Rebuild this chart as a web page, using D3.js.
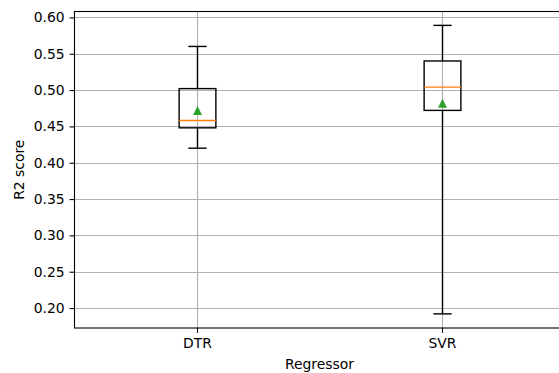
<!DOCTYPE html>
<html>
<head>
<meta charset="utf-8">
<script src="https://cdn.jsdelivr.net/npm/d3@7"></script>
<style>
  body { margin: 0; background: #fff; }
  svg { display: block; font-family: "DejaVu Sans", sans-serif; }
</style>
</head>
<body>
<svg id="chart"></svg>
<script>
const categories = ["DTR", "SVR"];
const whiskerLow = [0.420, 0.192];
const q1 = [0.448, 0.472];
const medians = [0.458, 0.504];
const q3 = [0.502, 0.540];
const whiskerHigh = [0.560, 0.589];
const means = [0.472, 0.482];
const yTicks = [0.20, 0.25, 0.30, 0.35, 0.40, 0.45, 0.50, 0.55, 0.60];

const width = 559;
const height = 373;
const margin = {left: 74.5, top: 11.5, right: -5.5, bottom: 45};
const fontSize = "13.9px";

const svg = d3.select("#chart")
    .attr("width", width)
    .attr("height", height);

const x = d3.scaleLinear()
    .domain([0.5, 2.5])
    .range([margin.left, width - margin.right]);

const y = d3.scaleLinear()
    .domain([0.17255, 0.6081])
    .range([height - margin.bottom, margin.top]);

const plotBottom = height - margin.bottom;
const plotTop = margin.top;
const boxW = x(1.15) - x(1);

// grid
const grid = svg.append("g");
grid.selectAll("line.h")
    .data(yTicks)
    .enter().append("line")
    .attr("x1", x(0.5)).attr("x2", x(2.5))
    .attr("y1", d => Math.round(y(d)) + 0.5)
    .attr("y2", d => Math.round(y(d)) + 0.5)
    .attr("stroke", "#b0b0b0")
    .attr("stroke-width", 1.1);
grid.selectAll("line.v")
    .data(categories)
    .enter().append("line")
    .attr("x1", (d, i) => Math.round(x(i + 1)) + 0.5)
    .attr("x2", (d, i) => Math.round(x(i + 1)) + 0.5)
    .attr("y1", plotTop).attr("y2", plotBottom)
    .attr("stroke", "#b0b0b0")
    .attr("stroke-width", 1.1);

// boxes
const box = svg.append("g")
    .selectAll("g")
    .data(categories)
    .enter().append("g");

const cx = (d, i) => Math.round(x(i + 1)) + 0.5;

box.append("line")
    .attr("x1", cx).attr("x2", cx)
    .attr("y1", (d, i) => y(whiskerHigh[i]))
    .attr("y2", (d, i) => y(q3[i]))
    .attr("stroke", "#000").attr("stroke-width", 1.4);
box.append("line")
    .attr("x1", cx).attr("x2", cx)
    .attr("y1", (d, i) => y(q1[i]))
    .attr("y2", (d, i) => y(whiskerLow[i]))
    .attr("stroke", "#000").attr("stroke-width", 1.4);

[whiskerHigh, whiskerLow].forEach(arr => {
    box.append("line")
        .attr("x1", (d, i) => cx(d, i) - boxW / 4)
        .attr("x2", (d, i) => cx(d, i) + boxW / 4)
        .attr("y1", (d, i) => y(arr[i]))
        .attr("y2", (d, i) => y(arr[i]))
        .attr("stroke", "#000").attr("stroke-width", 1.4);
});

box.append("rect")
    .attr("x", (d, i) => cx(d, i) - boxW / 2)
    .attr("width", boxW)
    .attr("y", (d, i) => y(q3[i]))
    .attr("height", (d, i) => y(q1[i]) - y(q3[i]))
    .attr("fill", "none")
    .attr("stroke", "#000").attr("stroke-width", 1.4);

box.append("line")
    .attr("x1", (d, i) => cx(d, i) - boxW / 2)
    .attr("x2", (d, i) => cx(d, i) + boxW / 2)
    .attr("y1", (d, i) => y(medians[i]))
    .attr("y2", (d, i) => y(medians[i]))
    .attr("stroke", "#ff7f0e").attr("stroke-width", 1.4);

// mean marker: matplotlib "^", 6pt
const m = 4.5;
box.append("path")
    .attr("d", `M0,${-m}L${m},${m}L${-m},${m}Z`)
    .attr("transform", (d, i) => `translate(${cx(d, i)},${y(means[i])})`)
    .attr("fill", "#2ca02c");

// axes
const yAxis = d3.axisLeft(y)
    .tickValues(yTicks)
    .tickFormat(d3.format(".2f"))
    .tickSizeOuter(0)
    .tickSize(4.9)
    .tickPadding(4.9);
const xAxis = d3.axisBottom(x)
    .tickValues([1, 2])
    .tickFormat((d, i) => categories[i])
    .tickSizeOuter(0)
    .tickSize(4.9)
    .tickPadding(4.9);

const gy = svg.append("g")
    .attr("transform", `translate(${margin.left},0)`)
    .call(yAxis);
const gx = svg.append("g")
    .attr("transform", `translate(0,${plotBottom})`)
    .call(xAxis);

[gx, gy].forEach(g => {
    g.selectAll("text")
        .attr("font-family", "DejaVu Sans, sans-serif")
        .attr("font-size", fontSize)
        .attr("fill", "#000");
    g.selectAll("line").attr("stroke", "#000").attr("stroke-width", 1.1);
    g.select(".domain").remove();
});

// spines
svg.append("rect")
    .attr("x", margin.left)
    .attr("y", plotTop)
    .attr("width", x(2.5) - margin.left)
    .attr("height", plotBottom - plotTop)
    .attr("fill", "none")
    .attr("stroke", "#000")
    .attr("stroke-width", 1.1);

svg.append("text")
    .attr("x", (margin.left + x(2.5)) / 2)
    .attr("y", 368.5)
    .attr("text-anchor", "middle")
    .attr("font-size", fontSize)
    .text("Regressor");

svg.append("text")
    .attr("transform", `translate(23.5,${(plotTop + plotBottom) / 2}) rotate(-90)`)
    .attr("text-anchor", "middle")
    .attr("font-size", fontSize)
    .text("R2 score");
</script>
</body>
</html>
